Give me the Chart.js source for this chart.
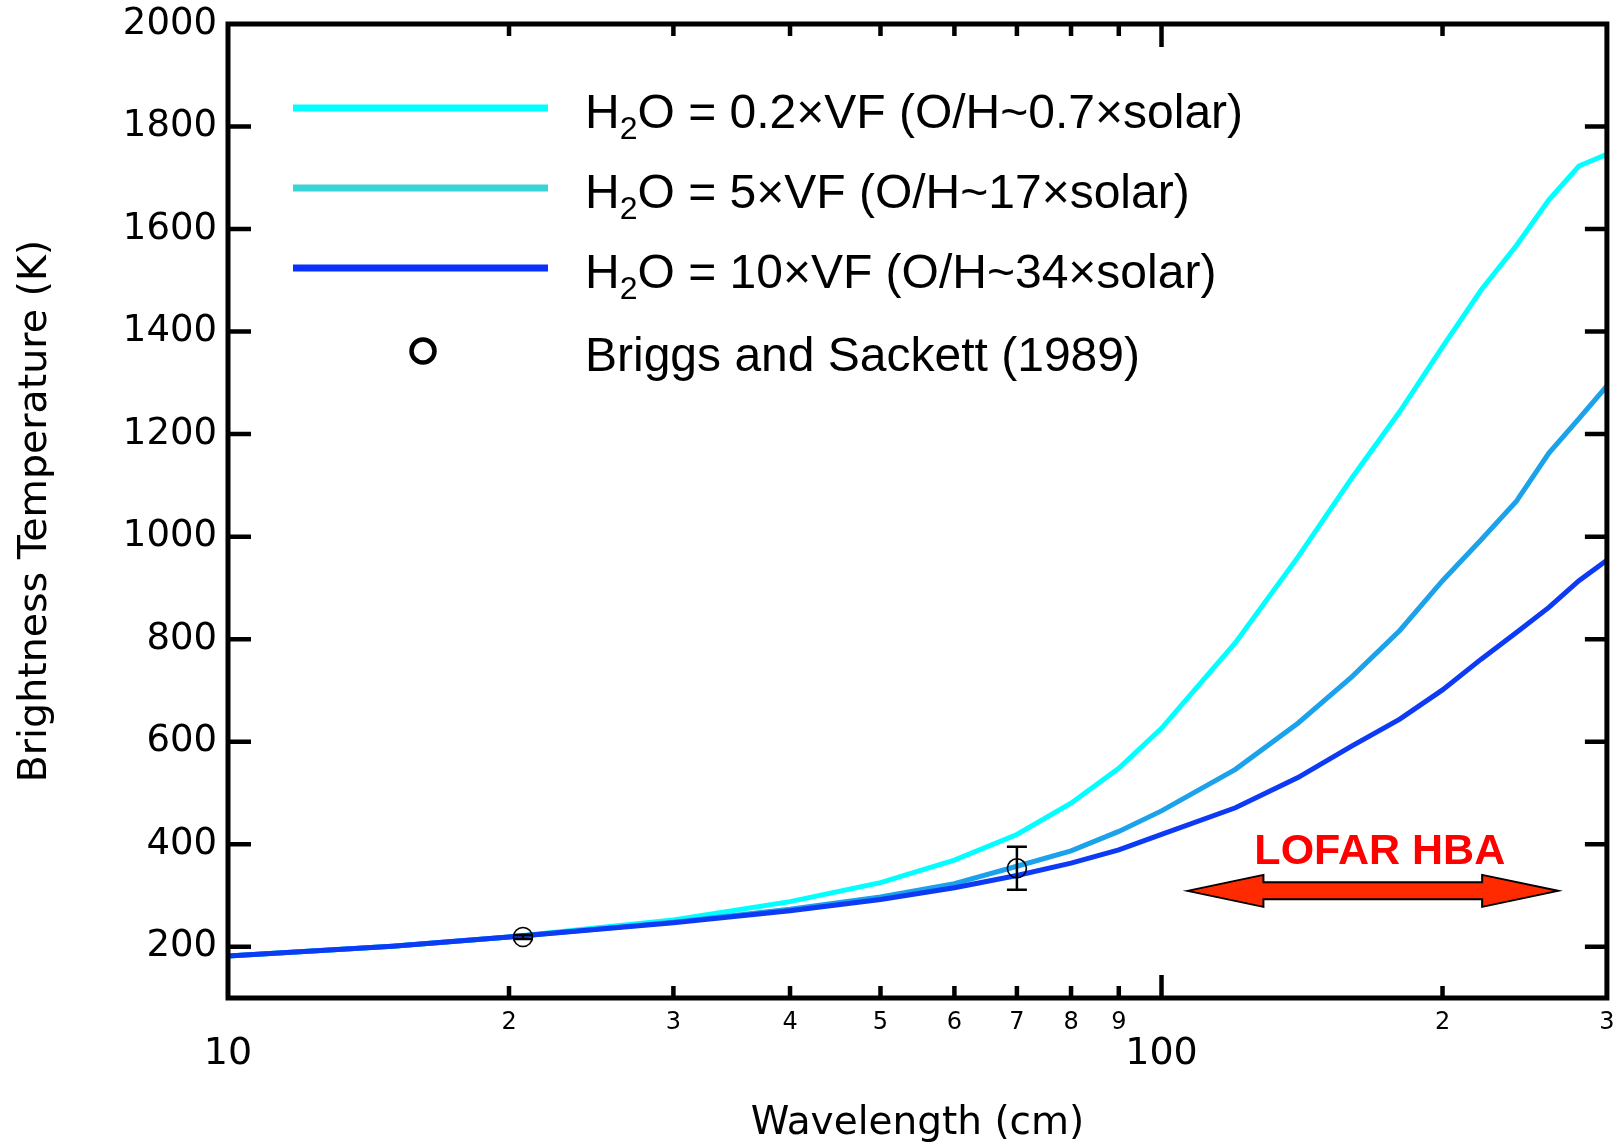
<!DOCTYPE html>
<html>
<head>
<meta charset="utf-8">
<script src="https://cdn.jsdelivr.net/npm/chart.js@4.4.1/dist/chart.umd.min.js"></script>
<style>
  html, body { margin: 0; padding: 0; background: #fff; }
</style>
</head>
<body>
<canvas id="tb-chart" width="1618" height="1143"></canvas>
<script>
// wavelength grid of the model curves (cm)
const wavelengths = [10, 15, 20, 30, 40, 50, 60, 70, 80, 90, 100, 120, 140, 160, 180, 200, 220, 240, 260, 280, 300];
// brightness temperature (K) for each water abundance
const tb02VF = [182, 201, 219, 252, 288, 325, 369, 419, 480, 548, 626, 793, 960, 1115, 1244, 1370, 1481, 1568, 1657, 1723, 1746];
const tb5VF  = [182, 201, 219, 248, 273, 297, 323, 357, 387, 425, 465, 546, 636, 727, 817, 914, 994, 1069, 1163, 1230, 1294];
const tb10VF = [182, 201, 219, 247, 270, 292, 315, 339, 363, 389, 419, 471, 530, 592, 644, 701, 761, 813, 862, 914, 954];

// Briggs and Sackett (1989)
const briggsX = [20.7, 70];
const briggsY = [219, 353];
const briggsLo = [215, 311];
const briggsHi = [223, 395];

const xTicks = [10, 20, 30, 40, 50, 60, 70, 80, 90, 100, 200, 300];
const xMajor = [10, 100];
const yTicks = [200, 400, 600, 800, 1000, 1200, 1400, 1600, 1800, 2000];

// LOFAR HBA arrow (tip to tip, cm) and its height (K)
const lofarTips = [106.6, 266];
const lofarY = 309;

const family = "'DejaVu Sans', sans-serif";
const legendFont = "'Liberation Sans', Arial, sans-serif";

const pts = (ys) => wavelengths.map((w, i) => ({ x: w, y: ys[i] }));

// keep the plot box where the layout padding puts it
const noPad = s => { s.paddingLeft = 0; s.paddingRight = 0; s.paddingTop = 0; s.paddingBottom = 0; };

const frame = {
  id: 'frame',
  afterDatasetsDraw(chart) {
    const { ctx, chartArea: a, scales: { x, y } } = chart;
    ctx.save();
    ctx.strokeStyle = '#000';
    ctx.lineWidth = 4.5;
    ctx.lineCap = 'butt';
    x.ticks.forEach(t => {
      if (t.value <= x.min || t.value >= x.max) return;
      const px = x.getPixelForValue(t.value);
      const len = xMajor.includes(t.value) ? 23 : 12;
      ctx.beginPath();
      ctx.moveTo(px, a.bottom); ctx.lineTo(px, a.bottom - len);
      ctx.moveTo(px, a.top); ctx.lineTo(px, a.top + len);
      ctx.stroke();
    });
    y.ticks.forEach(t => {
      if (t.value <= y.min || t.value >= y.max) return;
      const py = y.getPixelForValue(t.value);
      ctx.beginPath();
      ctx.moveTo(a.left, py); ctx.lineTo(a.left + 23, py);
      ctx.moveTo(a.right, py); ctx.lineTo(a.right - 22, py);
      ctx.stroke();
    });
    ctx.lineWidth = 5;
    ctx.strokeRect(a.left, a.top, a.right - a.left, a.bottom - a.top);
    ctx.restore();
  }
};

const errorBars = {
  id: 'errorBars',
  afterDatasetsDraw(chart) {
    const { ctx, scales: { x, y } } = chart;
    ctx.save();
    ctx.strokeStyle = '#000';
    ctx.lineWidth = 2.5;
    briggsX.forEach((w, i) => {
      const px = x.getPixelForValue(w);
      const lo = y.getPixelForValue(briggsLo[i]);
      const hi = y.getPixelForValue(briggsHi[i]);
      ctx.beginPath();
      ctx.moveTo(px, lo); ctx.lineTo(px, hi);
      ctx.moveTo(px - 10, lo); ctx.lineTo(px + 10, lo);
      ctx.moveTo(px - 10, hi); ctx.lineTo(px + 10, hi);
      ctx.stroke();
    });
    ctx.restore();
  }
};

const lofar = {
  id: 'lofar',
  afterDatasetsDraw(chart) {
    const { ctx, scales: { x, y } } = chart;
    const x0 = x.getPixelForValue(lofarTips[0]);
    const x1 = x.getPixelForValue(lofarTips[1]);
    const yc = y.getPixelForValue(lofarY);
    const head = 76, hh = 16, sh = 8.5;
    ctx.save();
    ctx.beginPath();
    ctx.moveTo(x0, yc);
    ctx.lineTo(x0 + head, yc - hh);
    ctx.lineTo(x0 + head, yc - sh);
    ctx.lineTo(x1 - head, yc - sh);
    ctx.lineTo(x1 - head, yc - hh);
    ctx.lineTo(x1, yc);
    ctx.lineTo(x1 - head, yc + hh);
    ctx.lineTo(x1 - head, yc + sh);
    ctx.lineTo(x0 + head, yc + sh);
    ctx.lineTo(x0 + head, yc + hh);
    ctx.closePath();
    ctx.fillStyle = '#ff2a00';
    ctx.fill();
    ctx.strokeStyle = '#000';
    ctx.lineWidth = 2;
    ctx.stroke();
    ctx.fillStyle = '#ff0000';
    ctx.font = "bold 43px 'Liberation Sans', Arial, sans-serif";
    ctx.textAlign = 'center';
    ctx.textBaseline = 'alphabetic';
    ctx.fillText('LOFAR HBA', (x0 + x1) / 2 + 7, yc - 27);
    ctx.restore();
  }
};

// legend drawn inside the plot area, with a real subscript in H2O
const insideLegend = {
  id: 'insideLegend',
  afterDraw(chart) {
    const { ctx } = chart;
    const rows = [108, 188, 268, 351];
    const order = [1, 2, 3, 0];
    ctx.save();
    order.forEach((di, r) => {
      const ds = chart.data.datasets[di];
      const yy = rows[r];
      if (ds.showLine === false) {
        ctx.beginPath();
        ctx.arc(423, yy, 11.5, 0, Math.PI * 2);
        ctx.strokeStyle = '#000';
        ctx.lineWidth = 4.5;
        ctx.stroke();
      } else {
        ctx.beginPath();
        ctx.moveTo(293, yy); ctx.lineTo(548, yy);
        ctx.strokeStyle = ds.legendColor;
        ctx.lineWidth = 7;
        ctx.stroke();
      }
      ctx.fillStyle = '#000';
      ctx.textBaseline = 'alphabetic';
      ctx.textAlign = 'left';
      const base = yy + 20;
      let xx = 585;
      const parts = ds.label.split('\u2082');
      parts.forEach((p, k) => {
        ctx.font = '48px ' + legendFont;
        ctx.fillText(p, xx, base);
        xx += ctx.measureText(p).width;
        if (k < parts.length - 1) {
          ctx.font = '32px ' + legendFont;
          ctx.fillText('2', xx, base + 11);
          xx += ctx.measureText('2').width;
        }
      });
    });
    ctx.restore();
  }
};

new Chart(document.getElementById('tb-chart'), {
  type: 'line',
  data: {
    datasets: [
      {
        label: 'Briggs and Sackett (1989)',
        data: briggsX.map((w, i) => ({ x: w, y: briggsY[i] })),
        showLine: false,
        pointStyle: 'circle',
        pointRadius: 9.5,
        pointBorderWidth: 1.6,
        pointBorderColor: '#000',
        pointBackgroundColor: 'rgba(0,0,0,0)',
        order: 0
      },
      {
        label: 'H\u2082O = 0.2×VF (O/H~0.7×solar)',
        data: pts(tb02VF),
        borderColor: '#00ffff',
        legendColor: '#00ffff',
        borderWidth: 5,
        pointRadius: 0,
        order: 3
      },
      {
        label: 'H\u2082O = 5×VF (O/H~17×solar)',
        data: pts(tb5VF),
        borderColor: 'rgb(28,162,234)',
        legendColor: 'rgb(58,211,214)',
        borderWidth: 5,
        pointRadius: 0,
        order: 2
      },
      {
        label: 'H\u2082O = 10×VF (O/H~34×solar)',
        data: pts(tb10VF),
        borderColor: 'rgb(12,58,245)',
        legendColor: 'rgb(10,48,255)',
        borderWidth: 5,
        pointRadius: 0,
        order: 1
      }
    ]
  },
  options: {
    responsive: false,
    animation: false,
    devicePixelRatio: 1,
    layout: { padding: { top: 24, right: 10, bottom: 0, left: 0 } },
    plugins: {
      legend: { display: false },
      tooltip: { enabled: false }
    },
    scales: {
      x: {
        type: 'logarithmic',
        min: 10,
        max: 300,
        afterBuildTicks: s => { s.ticks = xTicks.map(v => ({ value: v, major: xMajor.includes(v) })); },
        afterFit: s => { s.height = 145; noPad(s); },
        grid: { display: false, drawTicks: false },
        border: { display: false },
        ticks: {
          autoSkip: false,
          maxRotation: 0,
          minRotation: 0,
          padding: 10,
          color: '#000',
          font: c => (c.tick && xMajor.includes(c.tick.value))
            ? { family, size: 38, lineHeight: 0.816 }
            : { family, size: 24 },
          callback: v => xMajor.includes(v) ? ['', String(v)] : String(v).charAt(0)
        },
        title: {
          display: true,
          text: 'Wavelength (cm)',
          color: '#000',
          font: { family, size: 39, lineHeight: 1.0 },
          padding: { top: 0, bottom: 0 }
        }
      },
      y: {
        min: 100,
        max: 2000,
        afterBuildTicks: s => { s.ticks = yTicks.map(v => ({ value: v })); },
        afterFit: s => { s.width = 228; noPad(s); },
        grid: { display: false, drawTicks: false },
        border: { display: false },
        ticks: {
          padding: 11,
          color: '#000',
          font: { family, size: 37 },
          callback: v => String(v)
        },
        title: {
          display: true,
          text: 'Brightness Temperature (K)',
          color: '#000',
          font: { family, size: 39.5 },
          padding: { top: 12, bottom: 0 }
        }
      }
    }
  },
  plugins: [frame, errorBars, lofar, insideLegend]
});
</script>
</body>
</html>
